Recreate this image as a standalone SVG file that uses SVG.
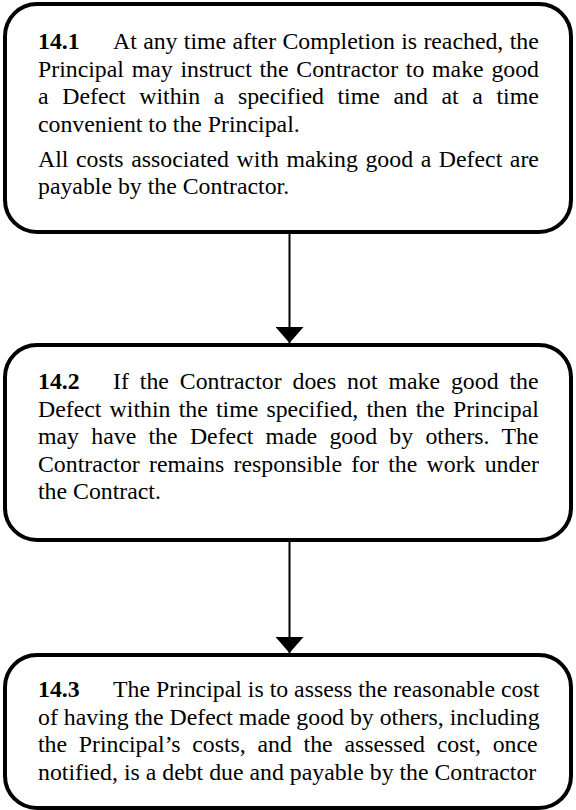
<svg xmlns="http://www.w3.org/2000/svg" width="576" height="810" viewBox="0 0 576 810">
  <style>
    .box { fill: #ffffff; stroke: #000000; stroke-width: 4; }
    .t { font-size: 23.8px; fill: #000000; }
    .b { font-weight: bold; }
    .conn { stroke: #000000; stroke-width: 2; fill: none; }
  </style>
  <defs>
    <marker id="arrow" markerUnits="userSpaceOnUse" markerWidth="17" markerHeight="28" viewBox="0 0 17 28" refX="16" refY="14" orient="auto">
      <path d="M0,0 L16,14 L0,28 Z" fill="#000000"/>
    </marker>
  </defs>
  <rect width="576" height="810" fill="#ffffff"/>

  <g id="connectors">
    <line class="conn" x1="289.5" y1="232" x2="289.5" y2="343" marker-end="url(#arrow)"/>
    <line class="conn" x1="289.5" y1="540" x2="289.5" y2="653" marker-end="url(#arrow)"/>
  </g>

  <g font-family="Liberation Serif, Times New Roman, serif">
  <g id="node-14-1">
    <rect class="box" x="5" y="4" width="566" height="228" rx="32" ry="32"/>
    <text class="t b" x="38" y="49">14.1</text>
    <text class="t" x="113" y="49" word-spacing="0.4">At any time after Completion is reached, the</text>
    <text class="t" x="38" y="76.5" word-spacing="1.8">Principal may instruct the Contractor to make good</text>
    <text class="t" x="38" y="104" word-spacing="7.7">a Defect within a specified time and at a time</text>
    <text class="t" x="38" y="131.5">convenient to the Principal.</text>
    <text class="t" x="38" y="166.5" word-spacing="1.65">All costs associated with making good a Defect are</text>
    <text class="t" x="38" y="194">payable by the Contractor.</text>
  </g>

  <g id="node-14-2">
    <rect class="box" x="5" y="345" width="566" height="195" rx="32" ry="32"/>
    <text class="t b" x="38" y="389">14.2</text>
    <text class="t" x="113" y="389" word-spacing="5.0">If the Contractor does not make good the</text>
    <text class="t" x="38" y="416.5" word-spacing="2.26">Defect within the time specified, then the Principal</text>
    <text class="t" x="38" y="444" word-spacing="6.36">may have the Defect made good by others. The</text>
    <text class="t" x="38" y="471.5" word-spacing="3.3">Contractor remains responsible for the work under</text>
    <text class="t" x="38" y="499">the Contract.</text>
  </g>

  <g id="node-14-3">
    <rect class="box" x="5" y="655" width="566" height="153" rx="32" ry="32"/>
    <text class="t b" x="38" y="697">14.3</text>
    <text class="t" x="113" y="697">The Principal is to assess the reasonable cost</text>
    <text class="t" x="38" y="724.5">of having the Defect made good by others, including</text>
    <text class="t" x="38" y="752" word-spacing="5.76">the Principal’s costs, and the assessed cost, once</text>
    <text class="t" x="38" y="779.5">notified, is a debt due and payable by the Contractor</text>
  </g>
  </g>
</svg>
